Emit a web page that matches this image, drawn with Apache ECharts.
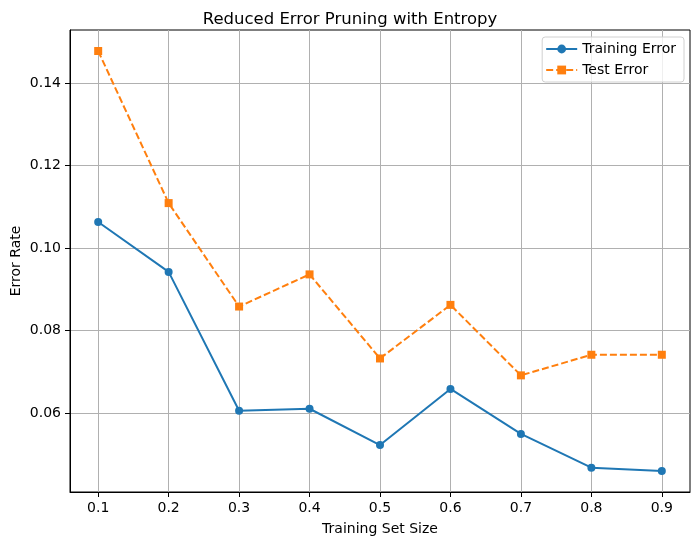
<!DOCTYPE html>
<html>
<head>
<meta charset="utf-8">
<script src="https://cdn.jsdelivr.net/npm/echarts@6/dist/echarts.min.js"></script>
<style>
  html, body { margin: 0; padding: 0; background: #fff; }
  #chart { width: 700px; height: 545px; }
</style>
</head>
<body>
<div id="chart"></div>
<script>
const sizes = [0.1, 0.2, 0.3, 0.4, 0.5, 0.6, 0.7, 0.8, 0.9];
const trainingError = [0.1063, 0.0942, 0.0605, 0.0610, 0.0522, 0.0658, 0.0549, 0.0467, 0.0459];
const testError = [0.1478, 0.1109, 0.0858, 0.0936, 0.0732, 0.0862, 0.0691, 0.0741, 0.0741];
const xTicks = [0.1, 0.2, 0.3, 0.4, 0.5, 0.6, 0.7, 0.8, 0.9];
const yTicks = [0.06, 0.08, 0.10, 0.12, 0.14];

const font = "DejaVu Sans";
const chart = echarts.init(document.getElementById("chart"));

const axisCommon = {
  type: "value",
  axisLine: { show: true, onZero: false, lineStyle: { color: "#000", width: 1 } },
  axisTick: { show: true, length: 5, inside: false, lineStyle: { color: "#000" } },
  splitLine: { show: true, lineStyle: { color: "#b0b0b0", width: 1 } },
  nameTextStyle: { fontFamily: font, fontSize: 14, color: "#000" },
  nameLocation: "middle",
  nameMoveOverlap: false,
};

chart.setOption({
  animation: false,
  title: {
    text: "Reduced Error Pruning with Entropy",
    left: "center",
    top: 6,
    textStyle: { fontFamily: font, fontSize: 16.5, fontWeight: "normal", color: "#000" },
  },
  legend: {
    right: 16,
    top: 37,
    orient: "vertical",
    itemWidth: 31,
    itemHeight: 11,
    itemGap: 7,
    padding: [5, 8, 5, 3],
    borderColor: "#d0d0d0",
    borderWidth: 1,
    borderRadius: 3,
    backgroundColor: "rgba(255,255,255,0.8)",
    textStyle: { fontFamily: font, fontSize: 14, color: "#000" },
    data: ["Training Error", "Test Error"],
  },
  grid: {
    left: 70, right: 10, top: 30, bottom: 53,
    containLabel: false, outerBoundsMode: "none",
    show: true, borderColor: "#000", borderWidth: 1,
  },
  xAxis: Object.assign({}, axisCommon, {
    min: 0.06,
    max: 0.94,
    name: "Training Set Size",
    nameGap: 30,
    axisTick: Object.assign({}, axisCommon.axisTick, { customValues: xTicks }),
    axisLabel: { customValues: xTicks, fontFamily: font, fontSize: 14, color: "#000", margin: 9, formatter: (v) => v.toFixed(1) },
  }),
  yAxis: Object.assign({}, axisCommon, {
    min: 0.0408,
    max: 0.1529,
    name: "Error Rate",
    nameGap: 47,
    axisTick: Object.assign({}, axisCommon.axisTick, { customValues: yTicks }),
    axisLabel: { customValues: yTicks, fontFamily: font, fontSize: 14, color: "#000", margin: 9, formatter: (v) => v.toFixed(2) },
  }),
  series: [
    {
      name: "Training Error",
      type: "line",
      data: sizes.map((s, i) => [s, trainingError[i]]),
      symbol: "circle",
      symbolSize: 8,
      color: "#1f77b4",
      lineStyle: { width: 2, color: "#1f77b4" },
      itemStyle: { color: "#1f77b4" },
    },
    {
      name: "Test Error",
      type: "line",
      data: sizes.map((s, i) => [s, testError[i]]),
      symbol: "rect",
      symbolSize: 8,
      color: "#ff7f0e",
      lineStyle: { width: 2, type: [7, 3], color: "#ff7f0e" },
      itemStyle: { color: "#ff7f0e" },
    },
  ],
});
</script>
</body>
</html>
